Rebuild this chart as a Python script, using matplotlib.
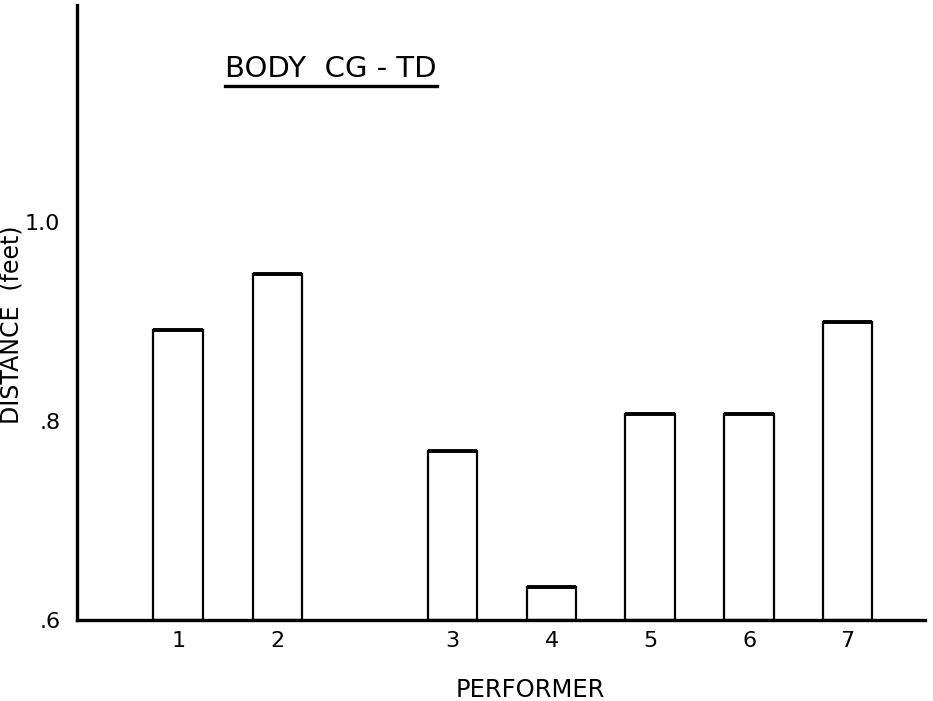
import matplotlib
matplotlib.use('Agg')
import matplotlib.pyplot as plt

# performers and the measured distance (feet)
performers = ['1', '2', '3', '4', '5', '6', '7']
xPos = [1, 2, 3.76, 4.76, 5.75, 6.75, 7.74]
distance = [0.891, 0.948, 0.770, 0.633, 0.807, 0.807, 0.899]
yTicks = [0.6, 0.8, 1.0]
yTickLabels = ['.6', '.8', '1.0']

plt.rcParams['font.family'] = ['DejaVu Sans']

fig = plt.figure(figsize=(9.33, 7.01), dpi=100)
ax = fig.add_axes([77/933, 81/701, (925-77)/933, (620-5)/701])

base = 0.6
ax.bar(xPos, [d - base for d in distance], bottom=base, width=0.5,
       facecolor='white', edgecolor='black', linewidth=1.6, zorder=2)
# heavier top edges as in the hand drawn original
ax.hlines(distance, [x - 0.25 for x in xPos], [x + 0.25 for x in xPos],
          colors='black', linewidth=2.8, zorder=3)

ax.set_xlim(-0.02, 8.52)
ax.set_ylim(0.6, 1.218)

ax.set_xticks(xPos)
ax.set_xticklabels(performers, fontsize=16)
ax.set_yticks(yTicks)
ax.set_yticklabels(yTickLabels, fontsize=16)
ax.tick_params(axis='both', length=0)
ax.tick_params(axis='x', pad=8)
ax.tick_params(axis='y', pad=12)

for side in ['top', 'right']:
    ax.spines[side].set_visible(False)
for side in ['left', 'bottom']:
    ax.spines[side].set_linewidth(2.4)

ax.set_xlabel('PERFORMER', fontsize=17.5)
ax.xaxis.set_label_coords(0.535, -0.094)
ax.set_ylabel('DISTANCE  (feet)', fontsize=17)
ax.yaxis.set_label_coords(-0.063, 0.48)

ax.text(0.174, 0.883, 'BODY  CG - TD', transform=ax.transAxes,
        fontsize=21, ha='left', va='baseline')
ax.plot([0.174, 0.424], [0.868, 0.868], transform=ax.transAxes,
        color='black', linewidth=2.4, clip_on=False)

fig.savefig('out.png', dpi=100)
